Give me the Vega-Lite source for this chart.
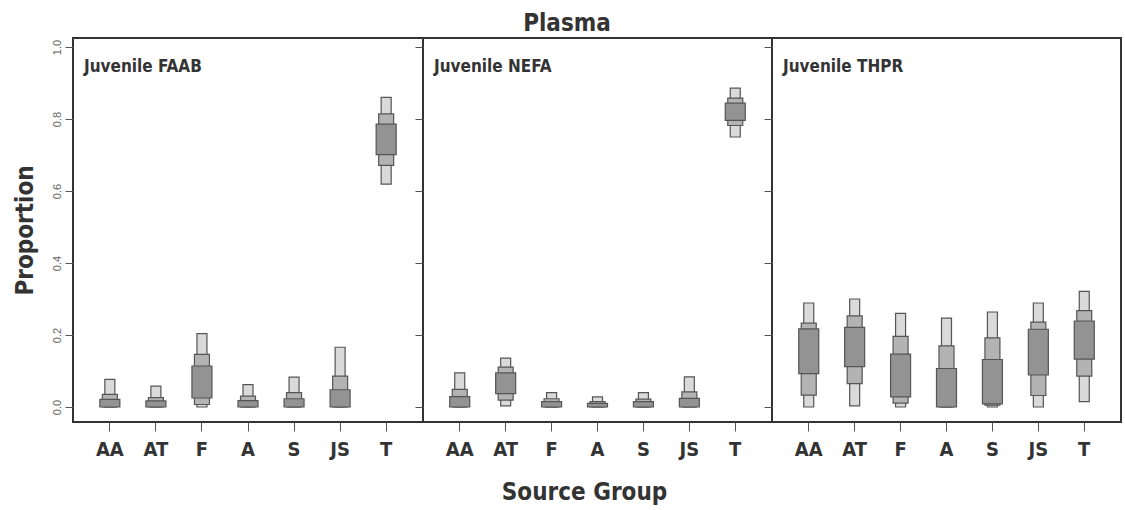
{
  "$schema": "https://vega.github.io/schema/vega-lite/v6.json",
  "padding": {"left": 12, "top": 12, "right": 0, "bottom": 0},
  "background": "white",
  "title": {"text": "Plasma", "fontSize": 24, "font": "DejaVu Sans Condensed, Open Sans", "fontWeight": "bold", "color": "#333", "offset": 1, "anchor": "middle"},
  "config": {
    "view": {"stroke": "#333", "strokeWidth": 2},
    "axisX": {"labelAngle": 0, "labelFont": "DejaVu Sans Condensed, Open Sans", "labelFontSize": 20, "labelFontWeight": "bold", "labelColor": "#333", "tickSize": 9, "tickColor": "#555", "domain": false, "labelPadding": 8, "titleFont": "DejaVu Sans Condensed, Open Sans", "titleFontSize": 24, "titleFontWeight": "bold", "titleColor": "#333", "titlePadding": 21},
    "axisY": {"format": ".1f", "labelAngle": -90, "labelAlign": "center", "labelBaseline": "bottom", "labelFont": "Liberation Sans", "labelFontSize": 11, "labelColor": "#666", "tickSize": 8, "tickColor": "#555", "domain": false, "grid": false, "labelPadding": 3, "titleFont": "DejaVu Sans Condensed, Open Sans", "titleFontSize": 24, "titleFontWeight": "bold", "titleColor": "#333", "titlePadding": 14},
    "title": {"font": "DejaVu Sans Condensed, Open Sans"}
  },
  "datasets": {
    "d": [
      {"p": "FAAB", "g": "AA", "k": 1, "lo": 0.0, "hi": 0.077},
      {"p": "FAAB", "g": "AA", "k": 2, "lo": 0.0, "hi": 0.035},
      {"p": "FAAB", "g": "AA", "k": 3, "lo": 0.0, "hi": 0.021},
      {"p": "FAAB", "g": "AT", "k": 1, "lo": 0.0, "hi": 0.058},
      {"p": "FAAB", "g": "AT", "k": 2, "lo": 0.0, "hi": 0.026},
      {"p": "FAAB", "g": "AT", "k": 3, "lo": 0.0, "hi": 0.017},
      {"p": "FAAB", "g": "F", "k": 1, "lo": 0.0, "hi": 0.204},
      {"p": "FAAB", "g": "F", "k": 2, "lo": 0.007, "hi": 0.146},
      {"p": "FAAB", "g": "F", "k": 3, "lo": 0.025, "hi": 0.114},
      {"p": "FAAB", "g": "A", "k": 1, "lo": 0.0, "hi": 0.062},
      {"p": "FAAB", "g": "A", "k": 2, "lo": 0.0, "hi": 0.030},
      {"p": "FAAB", "g": "A", "k": 3, "lo": 0.0, "hi": 0.018},
      {"p": "FAAB", "g": "S", "k": 1, "lo": 0.0, "hi": 0.083},
      {"p": "FAAB", "g": "S", "k": 2, "lo": 0.0, "hi": 0.040},
      {"p": "FAAB", "g": "S", "k": 3, "lo": 0.0, "hi": 0.023},
      {"p": "FAAB", "g": "JS", "k": 1, "lo": 0.0, "hi": 0.166},
      {"p": "FAAB", "g": "JS", "k": 2, "lo": 0.0, "hi": 0.086},
      {"p": "FAAB", "g": "JS", "k": 3, "lo": 0.0, "hi": 0.048},
      {"p": "FAAB", "g": "T", "k": 1, "lo": 0.619, "hi": 0.860},
      {"p": "FAAB", "g": "T", "k": 2, "lo": 0.671, "hi": 0.814},
      {"p": "FAAB", "g": "T", "k": 3, "lo": 0.701, "hi": 0.786},
      {"p": "NEFA", "g": "AA", "k": 1, "lo": 0.0, "hi": 0.095},
      {"p": "NEFA", "g": "AA", "k": 2, "lo": 0.0, "hi": 0.049},
      {"p": "NEFA", "g": "AA", "k": 3, "lo": 0.0, "hi": 0.029},
      {"p": "NEFA", "g": "AT", "k": 1, "lo": 0.003, "hi": 0.136},
      {"p": "NEFA", "g": "AT", "k": 2, "lo": 0.019, "hi": 0.111},
      {"p": "NEFA", "g": "AT", "k": 3, "lo": 0.037, "hi": 0.095},
      {"p": "NEFA", "g": "F", "k": 1, "lo": 0.0, "hi": 0.040},
      {"p": "NEFA", "g": "F", "k": 2, "lo": 0.0, "hi": 0.023},
      {"p": "NEFA", "g": "F", "k": 3, "lo": 0.0, "hi": 0.015},
      {"p": "NEFA", "g": "A", "k": 1, "lo": 0.0, "hi": 0.028},
      {"p": "NEFA", "g": "A", "k": 2, "lo": 0.0, "hi": 0.015},
      {"p": "NEFA", "g": "A", "k": 3, "lo": 0.0, "hi": 0.010},
      {"p": "NEFA", "g": "S", "k": 1, "lo": 0.0, "hi": 0.040},
      {"p": "NEFA", "g": "S", "k": 2, "lo": 0.0, "hi": 0.022},
      {"p": "NEFA", "g": "S", "k": 3, "lo": 0.0, "hi": 0.015},
      {"p": "NEFA", "g": "JS", "k": 1, "lo": 0.0, "hi": 0.084},
      {"p": "NEFA", "g": "JS", "k": 2, "lo": 0.0, "hi": 0.042},
      {"p": "NEFA", "g": "JS", "k": 3, "lo": 0.0, "hi": 0.024},
      {"p": "NEFA", "g": "T", "k": 1, "lo": 0.750, "hi": 0.886},
      {"p": "NEFA", "g": "T", "k": 2, "lo": 0.782, "hi": 0.858},
      {"p": "NEFA", "g": "T", "k": 3, "lo": 0.796, "hi": 0.844},
      {"p": "THPR", "g": "AA", "k": 1, "lo": 0.0, "hi": 0.289},
      {"p": "THPR", "g": "AA", "k": 2, "lo": 0.033, "hi": 0.233},
      {"p": "THPR", "g": "AA", "k": 3, "lo": 0.093, "hi": 0.217},
      {"p": "THPR", "g": "AT", "k": 1, "lo": 0.003, "hi": 0.300},
      {"p": "THPR", "g": "AT", "k": 2, "lo": 0.065, "hi": 0.253},
      {"p": "THPR", "g": "AT", "k": 3, "lo": 0.112, "hi": 0.221},
      {"p": "THPR", "g": "F", "k": 1, "lo": 0.0, "hi": 0.260},
      {"p": "THPR", "g": "F", "k": 2, "lo": 0.011, "hi": 0.196},
      {"p": "THPR", "g": "F", "k": 3, "lo": 0.028, "hi": 0.147},
      {"p": "THPR", "g": "A", "k": 1, "lo": 0.0, "hi": 0.247},
      {"p": "THPR", "g": "A", "k": 2, "lo": 0.0, "hi": 0.170},
      {"p": "THPR", "g": "A", "k": 3, "lo": 0.0, "hi": 0.107},
      {"p": "THPR", "g": "S", "k": 1, "lo": 0.0, "hi": 0.264},
      {"p": "THPR", "g": "S", "k": 2, "lo": 0.005, "hi": 0.192},
      {"p": "THPR", "g": "S", "k": 3, "lo": 0.009, "hi": 0.132},
      {"p": "THPR", "g": "JS", "k": 1, "lo": 0.0, "hi": 0.289},
      {"p": "THPR", "g": "JS", "k": 2, "lo": 0.032, "hi": 0.236},
      {"p": "THPR", "g": "JS", "k": 3, "lo": 0.089, "hi": 0.216},
      {"p": "THPR", "g": "T", "k": 1, "lo": 0.015, "hi": 0.321},
      {"p": "THPR", "g": "T", "k": 2, "lo": 0.086, "hi": 0.268},
      {"p": "THPR", "g": "T", "k": 3, "lo": 0.133, "hi": 0.239}
    ]
  },
  "spacing": 0,
  "bounds": "flush",
  "hconcat": [
    {
      "width": 350, "height": 384,
      "title": {"text": "Juvenile FAAB", "anchor": "start", "frame": "group", "offset": -38, "dx": 11, "fontSize": 17, "fontWeight": "bold", "color": "#333"},
      "data": {"name": "d"},
      "transform": [{"filter": "datum.p === 'FAAB'"}],
      "mark": {"type": "bar", "stroke": "#555", "strokeWidth": 1.2},
      "encoding": {
        "x": {"field": "g", "type": "nominal", "sort": ["AA", "AT", "F", "A", "S", "JS", "T"], "scale": {"paddingInner": 0, "paddingOuter": 0.3}, "axis": {"title": null}},
        "y": {"field": "lo", "type": "quantitative", "scale": {"domain": [-0.0416, 1.025], "nice": false, "zero": false}, "axis": {"title": "Proportion", "values": [0, 0.2, 0.4, 0.6, 0.8, 1.0]}},
        "y2": {"field": "hi"},
        "size": {"field": "k", "type": "quantitative", "scale": {"domain": [1, 3], "range": [10, 20]}, "legend": null},
        "color": {"field": "k", "type": "nominal", "scale": {"domain": [1, 2, 3], "range": ["#dadada", "#b3b3b3", "#939393"]}, "legend": null},
        "order": {"field": "k", "type": "quantitative"}
      }
    },
    {
      "width": 349, "height": 384,
      "title": {"text": "Juvenile NEFA", "anchor": "start", "frame": "group", "offset": -38, "dx": 11, "fontSize": 17, "fontWeight": "bold", "color": "#333"},
      "data": {"name": "d"},
      "transform": [{"filter": "datum.p === 'NEFA'"}],
      "mark": {"type": "bar", "stroke": "#555", "strokeWidth": 1.2},
      "encoding": {
        "x": {"field": "g", "type": "nominal", "sort": ["AA", "AT", "F", "A", "S", "JS", "T"], "scale": {"paddingInner": 0, "paddingOuter": 0.3}, "axis": {"title": "Source Group", "titleX": 161}},
        "y": {"field": "lo", "type": "quantitative", "scale": {"domain": [-0.0416, 1.025], "nice": false, "zero": false}, "axis": {"title": null, "labels": false, "values": [0, 0.2, 0.4, 0.6, 0.8, 1.0]}},
        "y2": {"field": "hi"},
        "size": {"field": "k", "type": "quantitative", "scale": {"domain": [1, 3], "range": [10, 20]}, "legend": null},
        "color": {"field": "k", "type": "nominal", "scale": {"domain": [1, 2, 3], "range": ["#dadada", "#b3b3b3", "#939393"]}, "legend": null},
        "order": {"field": "k", "type": "quantitative"}
      }
    },
    {
      "width": 349, "height": 384,
      "title": {"text": "Juvenile THPR", "anchor": "start", "frame": "group", "offset": -38, "dx": 11, "fontSize": 17, "fontWeight": "bold", "color": "#333"},
      "data": {"name": "d"},
      "transform": [{"filter": "datum.p === 'THPR'"}],
      "mark": {"type": "bar", "stroke": "#555", "strokeWidth": 1.2},
      "encoding": {
        "x": {"field": "g", "type": "nominal", "sort": ["AA", "AT", "F", "A", "S", "JS", "T"], "scale": {"paddingInner": 0, "paddingOuter": 0.3}, "axis": {"title": null}},
        "y": {"field": "lo", "type": "quantitative", "scale": {"domain": [-0.0416, 1.025], "nice": false, "zero": false}, "axis": {"title": null, "labels": false, "values": [0, 0.2, 0.4, 0.6, 0.8, 1.0]}},
        "y2": {"field": "hi"},
        "size": {"field": "k", "type": "quantitative", "scale": {"domain": [1, 3], "range": [10, 20]}, "legend": null},
        "color": {"field": "k", "type": "nominal", "scale": {"domain": [1, 2, 3], "range": ["#dadada", "#b3b3b3", "#939393"]}, "legend": null},
        "order": {"field": "k", "type": "quantitative"}
      }
    }
  ]
}
